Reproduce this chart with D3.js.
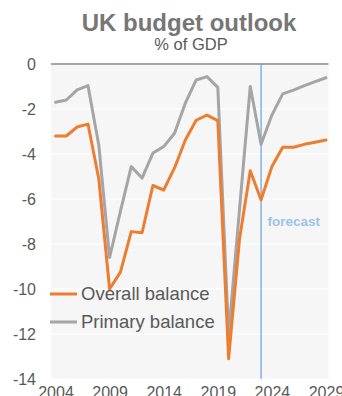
<!DOCTYPE html>
<html><head><meta charset="utf-8">
<script src="https://cdn.jsdelivr.net/npm/d3@7"></script>
<style>html,body{margin:0;padding:0;background:#fff;overflow:hidden}svg{display:block;font-family:"Liberation Sans",Arial,sans-serif}</style>
</head><body><svg id="c" width="342" height="396"></svg>
<script>
const years = d3.range(2004, 2030);
const overall = [-3.2,-3.2,-2.8,-2.67,-5.1,-10.0,-9.25,-7.45,-7.5,-5.4,-5.6,-4.62,-3.38,-2.5,-2.27,-2.52,-13.1,-7.8,-4.74,-6.04,-4.56,-3.7,-3.7,-3.57,-3.48,-3.38];
const primary = [-1.7,-1.6,-1.15,-0.96,-3.6,-8.6,-6.55,-4.56,-5.07,-3.96,-3.67,-3.08,-1.74,-0.71,-0.56,-1.04,-12.04,-6.5,-1.0,-3.57,-2.27,-1.33,-1.16,-0.96,-0.78,-0.61];
const yTicks = [0,-2,-4,-6,-8,-10,-12,-14];
const xTickYears = [2004,2009,2014,2019,2024,2029];
const forecastYear = 2023;
const seriesNames = ["Overall balance","Primary balance"];
const colors = ["#ED7D31","#A5A5A5"];

const svg = d3.select("#c");
const plot = {left:51, right:328.5, top:64, bottom:379};
const x = d3.scalePoint().domain(years).range([55.5, 326]);
const y = d3.scaleLinear().domain([0,-14]).range([plot.top, plot.bottom]);

// title
svg.append("text").attr("x",189).attr("y",30.5).attr("text-anchor","middle")
  .attr("font-size","24px").attr("font-weight","bold").attr("fill","#767676").text("UK budget outlook");
svg.append("text").attr("x",191).attr("y",50).attr("text-anchor","middle")
  .attr("font-size","16.5px").attr("fill","#595959").text("% of GDP");

// background
svg.append("rect").attr("x",plot.left).attr("y",plot.top)
  .attr("width",plot.right-plot.left).attr("height",plot.bottom-plot.top).attr("fill","#f6f6f6");

// gridlines
svg.append("g").selectAll("line").data(yTicks.filter(d=>d!==0)).join("line")
  .attr("x1",plot.left).attr("x2",plot.right)
  .attr("y1",d=>y(d)).attr("y2",d=>y(d)).attr("stroke","#ffffff").attr("stroke-width",1.2);

// y axis labels
const yAxis = d3.axisLeft(y).tickValues(yTicks).tickSize(0).tickPadding(0).tickFormat(d=>d3.format("d")(d).replace("−","-"));
const gy = svg.append("g").attr("transform","translate(36,0)").call(yAxis);
gy.select(".domain").remove();
gy.selectAll("text").attr("font-size","16px").attr("fill","#595959").attr("font-family","Liberation Sans, Arial, sans-serif");

// x axis labels
const xAxis = d3.axisBottom(x).tickValues(xTickYears).tickSize(0).tickPadding(0).tickFormat(d3.format("d"));
const gx = svg.append("g").attr("transform","translate(0,387)").call(xAxis);
gx.select(".domain").remove();
gx.selectAll("text").attr("font-size","16px").attr("fill","#595959").attr("font-family","Liberation Sans, Arial, sans-serif");

// zero line
svg.append("line").attr("x1",plot.left).attr("x2",plot.right)
  .attr("y1",y(0)).attr("y2",y(0)).attr("stroke","#8a8a8a").attr("stroke-width",1.5);

// forecast line
svg.append("line").attr("x1",x(forecastYear)).attr("x2",x(forecastYear))
  .attr("y1",y(0)).attr("y2",plot.bottom).attr("stroke","#5B9BD5").attr("stroke-width",1.1);
svg.append("text").attr("x",x(forecastYear)+6.5).attr("y",226)
  .attr("font-size","13.5px").attr("font-weight","bold").attr("fill","#9DC3E6").text("forecast");

// lines
const line = d3.line().x((d,i)=>x(years[i])).y(d=>y(d));
[primary, overall].forEach((s,k)=>{
  svg.append("path").datum(s).attr("d",line).attr("fill","none")
    .attr("stroke", k===0?colors[1]:colors[0]).attr("stroke-width",3)
    .attr("stroke-linejoin","round").attr("stroke-linecap","round");
});

// legend
const legY = [294, 322];
seriesNames.forEach((n,i)=>{
  svg.append("line").attr("x1",50).attr("x2",77).attr("y1",legY[i]).attr("y2",legY[i])
    .attr("stroke",colors[i]).attr("stroke-width",3);
  svg.append("text").attr("x",81).attr("y",legY[i]).attr("dy","0.35em")
    .attr("font-size","18.5px").attr("fill","#595959").text(n);
});
</script></body></html>
